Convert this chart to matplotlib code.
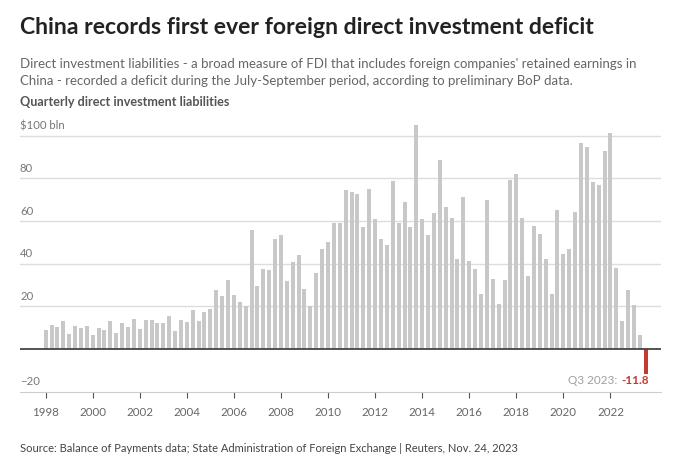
import numpy as np
import matplotlib
matplotlib.use("Agg")
import matplotlib.pyplot as plt
import matplotlib.transforms as mtransforms

plt.rcParams['font.family'] = ['Lato', 'DejaVu Sans']

# quarterly direct investment liabilities, $ bln, 1998 Q1 .. 2023 Q3
liabilities = [
    8.9, 11.1, 10.3, 13.3,   # 1998
    6.9, 10.6, 9.8, 10.6,    # 1999
    6.4, 9.7, 8.9, 13.1,     # 2000
    7.3, 12.0, 10.5, 13.9,   # 2001
    9.4, 13.7, 13.7, 12.2,   # 2002
    12.0, 15.5, 8.3, 13.4,   # 2003
    12.8, 18.4, 13.1, 17.5,  # 2004
    18.7, 27.5, 24.8, 32.3,  # 2005
    25.3, 22.0, 20.2, 55.8,  # 2006
    29.5, 37.3, 37.0, 51.7,  # 2007
    53.6, 32.0, 40.8, 44.2,  # 2008
    28.1, 20.0, 35.8, 47.0,  # 2009
    50.2, 58.9, 58.9, 74.5,  # 2010
    73.4, 72.7, 57.3, 75.0,  # 2011
    60.9, 51.4, 48.9, 78.9,  # 2012
    58.9, 68.7, 57.2, 104.8, # 2013
    60.9, 53.4, 63.9, 88.6,  # 2014
    66.6, 61.6, 42.0, 71.4,  # 2015
    41.1, 37.5, 25.6, 69.8,  # 2016
    33.0, 21.1, 32.3, 79.2,  # 2017
    81.9, 61.6, 34.2, 57.5,  # 2018
    53.7, 42.2, 25.6, 65.2,  # 2019
    44.5, 47.0, 64.2, 96.7,  # 2020
    94.8, 78.3, 76.9, 93.0,  # 2021
    101.1, 38.0, 13.3, 27.5, # 2022
    20.5, 6.6, -11.8,        # 2023
]
start_year = 1998
year_ticks = list(range(1998, 2023, 2))
y_grid = [20, 40, 60, 80, 100]
y_labels = {-20: "\u221220", 20: "20", 40: "40", 60: "60", 80: "80", 100: "$100 bln"}

title = "China records first ever foreign direct investment deficit"
subtitle = ("Direct investment liabilities - a broad measure of FDI that includes foreign companies' retained earnings in\n"
            "China - recorded a deficit during the July-September period, according to preliminary BoP data.")
chart_label = "Quarterly direct investment liabilities"
source = "Source: Balance of Payments data; State Administration of Foreign Exchange | Reuters, Nov. 24, 2023"

values = np.array(liabilities)
x = start_year + np.arange(len(values)) / 4.0
colors = ['#c8c8c8'] * (len(values) - 1) + ['#c43a31']

fig = plt.figure(figsize=(6.8, 4.58), dpi=100)
ax = fig.add_axes([20 / 680, 1 - 391.7 / 458, 641 / 680, 271 / 458])

for g in y_grid:
    ax.axhline(g, color='#dddddd', lw=1.0, zorder=0)
ax.axhline(0, color='#444444', lw=1.3, zorder=3)
ax.bar(x, values, width=0.17, color=colors, zorder=2)

ax.set_xlim(1996.91, 2024.15)
ax.set_ylim(-20, 107)
for s in ['top', 'right', 'left']:
    ax.spines[s].set_visible(False)
ax.spines['bottom'].set_color('#cccccc')
ax.set_yticks([])
ax.set_xticks(year_ticks)
ax.set_xticklabels([str(y) for y in year_ticks], color='#666666', fontsize=8.3)
ax.tick_params(axis='x', length=4, width=0.8, color='#555555', pad=7)

trans = mtransforms.blended_transform_factory(ax.transAxes, ax.transData)
for val, lab in y_labels.items():
    ax.text(0, val + 2.0, lab, transform=trans, ha='left', va='bottom',
            fontsize=8.2, color='#777777')

# label for the last quarter: gray prefix, bold red value
last = values[-1]
val_txt = ax.text(x[-1] + 0.13, -17.2, f"-{abs(last):.1f}", ha='right', va='bottom',
                  fontsize=8.5, color='#c43a31', fontweight='bold')
fig.canvas.draw()
bb = val_txt.get_window_extent().transformed(ax.transData.inverted())
ax.text(bb.x0 - 0.02, -17.2, "Q3 2023: ", ha='right', va='bottom',
        fontsize=8.5, color='#a0a0a0')

fig.text(20 / 680, 1 - 34 / 458, title, fontsize=16.6, fontweight='bold',
         color='#222222', ha='left', va='baseline')
fig.text(20 / 680, 1 - 85 / 458, subtitle, fontsize=9.5, color='#666666',
         ha='left', va='baseline', linespacing=1.45)
fig.text(20 / 680, 1 - 106 / 458, chart_label, fontsize=9.1, fontweight='bold',
         color='#555555', ha='left', va='baseline')
fig.text(20 / 680, 1 - 452 / 458, source, fontsize=8.0, color='#444444',
         ha='left', va='baseline')

fig.savefig("out.png", dpi=100, facecolor='white')
